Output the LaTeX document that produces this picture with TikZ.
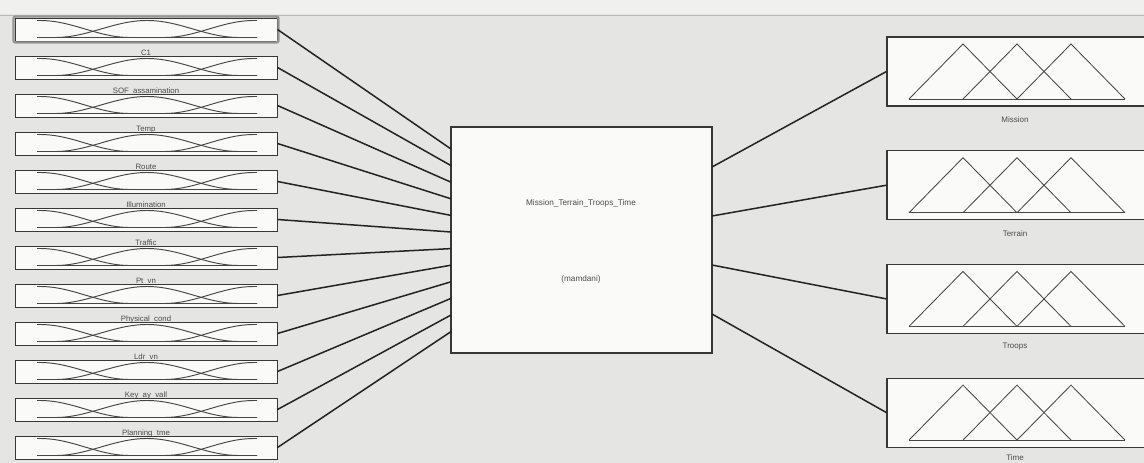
\documentclass[tikz,border=0pt]{standalone}
\usepackage{fontspec}
\setmainfont{Liberation Sans}
\definecolor{bg}{RGB}{229,229,227}
\definecolor{topc}{RGB}{240,240,238}
\definecolor{boxfill}{RGB}{250,250,248}
\definecolor{edge}{RGB}{55,55,55}
\definecolor{mfc}{RGB}{70,70,70}
\definecolor{txt}{RGB}{75,75,75}
\definecolor{conc}{RGB}{35,35,35}
\definecolor{selc}{RGB}{150,150,150}
\tikzset{
  lbox/.style={draw=edge, fill=boxfill, line width=1pt, minimum width=262pt, minimum height=23pt, inner sep=0pt},
  selbox/.style={draw=selc, line width=2.4pt, rounded corners=2pt},
  cbox/.style={draw=edge, fill=boxfill, line width=1.5pt, minimum width=261pt, minimum height=226pt, inner sep=0pt},
  rbox/.style={draw=edge, fill=boxfill, line width=1.1pt, minimum width=262pt, minimum height=69pt, inner sep=0pt},
  mf/.style={draw=mfc, line width=0.95pt},
  mfbase/.style={draw=mfc!80!black, line width=1.6pt},
  tri/.style={draw=mfc, line width=0.85pt, line join=miter},
  conn/.style={draw=conc, line width=1.5pt},
  llab/.style={font=\fontsize{7.8}{8}\selectfont, text=txt, inner sep=0pt, anchor=base},
  rlab/.style={font=\fontsize{8}{9}\selectfont, text=txt, inner sep=0pt},
  ctext/.style={font=\fontsize{8.2}{9}\selectfont, text=txt, inner sep=0pt}
}
\begin{document}
\begin{tikzpicture}[x=1pt,y=-1pt]
\useasboundingbox (0,0) rectangle (1144,463);
\clip (0,0) rectangle (1144,463);
\fill[bg] (0,0) rectangle (1144,463);
\fill[topc] (0,0) rectangle (1144,14);
\draw[gray!55, line width=1pt] (0,15) -- (1144,15);

% labels of the input boxes (drawn first, partly covered by next box)
\foreach \i/\txtl in {0/C1, 1/SOF\_assamination, 2/Temp, 3/Route, 4/Illumination, 5/Traffic, 6/Pt\_vn, 7/Physical\_cond, 8/Ldr\_vn, 9/Key\_ay\_vall, 10/Planning\_tme}{
  \node[llab] (lab\i) at (146,{18+38*(\i+1)-1}) {\txtl};
}

% input boxes
\foreach \i in {0,...,11}{
  \pgfmathsetmacro\yt{18+38*\i}
  \pgfmathsetmacro\ybot{\yt+19.5}
  \pgfmathsetmacro\yup{\yt+2.5}
  \node[lbox] (L\i) at (146,\yt+11.5) {};
  \draw[mfbase] (37,\ybot) -- (130,\ybot) (163,\ybot) -- (257,\ybot);
  \draw[mfbase] (37,\yup) -- (46,\yup) (140,\yup) -- (154,\yup) (248,\yup) -- (257,\yup);
  % left MF
  \draw[mf] (37,\yup) -- (40,\yup) -- plot[domain=40:130,samples=30] (\x,{\ybot-8.5*(1+cos((\x-40)/90*180))}) -- (257,\ybot);
  % middle MF
  \draw[mf] (37,\ybot) -- (55,\ybot) -- plot[domain=55:147,samples=30] (\x,{\ybot-8.5*(1-cos((\x-55)/92*180))}) -- plot[domain=147:239,samples=30] (\x,{\ybot-8.5*(1+cos((\x-147)/92*180))}) -- (257,\ybot);
  % right MF
  \draw[mf] (37,\ybot) -- (164,\ybot) -- plot[domain=164:254,samples=30] (\x,{\ybot-8.5*(1-cos((\x-164)/90*180))}) -- (257,\yup);
}
\draw[selbox] ([shift={(-1pt,1pt)}]L0.north west) rectangle ([shift={(1pt,-1pt)}]L0.south east);

% central FIS box
\node[cbox] (C) at (581.5,240) {};
\node[ctext] (ct1) at (581,203) {Mission\_Terrain\_Troops\_Time};
\node[ctext] (ct2) at (581,279) {(mamdani)};

% input connectors
\foreach \i in {0,...,11}{
  \coordinate (in\i) at (451,{149+16.6*\i});
  \draw[conn] (L\i.east) -- (in\i);
}

% output boxes
\foreach \j/\nm/\ly in {0/Mission/120, 1/Terrain/234, 2/Troops/347, 3/Time/457.5}{
  \pgfmathsetmacro\yt{37+113.7*\j}
  \node[rbox] (R\j) at (1018,\yt+34.5) {};
  \draw[tri] (909,\yt+62) -- (963,\yt+7) -- (1017,\yt+62);
  \draw[tri] (963,\yt+62) -- (1017,\yt+7) -- (1071,\yt+62);
  \draw[tri] (1017,\yt+62) -- (1071,\yt+7) -- (1125,\yt+62);
  \draw[tri] (909,\yt+62) -- (1125,\yt+62);
  \node[rlab] (rl\j) at (1015,\ly) {\nm};
  \coordinate (out\j) at (712,{167+49*\j});
  \draw[conn] (out\j) -- (R\j.west);
}
\end{tikzpicture}
\end{document}
